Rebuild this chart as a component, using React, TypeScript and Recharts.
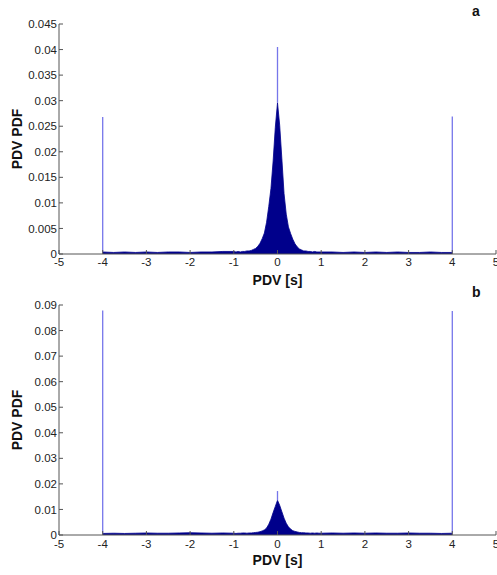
import { ComposedChart, Area, XAxis, YAxis, ReferenceLine } from 'recharts';

// PDV bin centres [s]
const pdv = [
  -4, -3.75, -3.5, -3.25, -3, -2.75, -2.5, -2.25, -2, -1.75, -1.5, -1.25,
  -1, -0.95, -0.9, -0.85, -0.8, -0.75, -0.7, -0.65, -0.6, -0.55, -0.5, -0.45, -0.4, -0.35, -0.3,
  -0.25, -0.2, -0.15, -0.1, -0.05, 0, 0.05, 0.1, 0.15, 0.2, 0.25, 0.3, 0.35, 0.4, 0.45, 0.5,
  0.55, 0.6, 0.65, 0.7, 0.75, 0.8, 0.85, 0.9, 0.95, 1,
  1.25, 1.5, 1.75, 2, 2.25, 2.5, 2.75, 3, 3.25, 3.5, 3.75, 4,
];

// panel a PDF
const pdfA = [
  0.0004, 0.0003, 0.0004, 0.0003, 0.0004, 0.0003, 0.0004, 0.0004, 0.0003, 0.0004, 0.0004, 0.0005,
  0.0005, 0.0004, 0.0005, 0.0004, 0.0005, 0.0005, 0.0006, 0.0006, 0.0007, 0.0009, 0.0011, 0.0015, 0.0021, 0.003, 0.0041,
  0.0062, 0.0093, 0.0128, 0.0182, 0.0248, 0.0296, 0.0252, 0.0186, 0.0118, 0.0078, 0.0053, 0.004, 0.0029, 0.002, 0.0014, 0.001,
  0.0008, 0.0006, 0.0006, 0.0005, 0.0005, 0.0004, 0.0005, 0.0004, 0.0004, 0.0004,
  0.0004, 0.0003, 0.0004, 0.0003, 0.0004, 0.0003, 0.0004, 0.0003, 0.0003, 0.0004, 0.0003, 0.0003,
];

// panel b PDF
const pdfB = [
  0.0006, 0.0007, 0.0006, 0.0007, 0.0008, 0.0007, 0.0007, 0.0008, 0.0009, 0.0008, 0.0007, 0.0008,
  0.0007, 0.0006, 0.0007, 0.0007, 0.0008, 0.0008, 0.0007, 0.0008, 0.0008, 0.0009, 0.001, 0.0011, 0.0013, 0.0016, 0.002,
  0.0027, 0.0042, 0.0062, 0.0088, 0.0112, 0.0136, 0.0116, 0.0091, 0.0066, 0.0046, 0.0032, 0.0023, 0.0017, 0.0014, 0.0012, 0.001,
  0.0009, 0.0009, 0.0008, 0.0008, 0.0007, 0.0008, 0.0007, 0.0008, 0.0007, 0.0007,
  0.0008, 0.0007, 0.0008, 0.0007, 0.0008, 0.0007, 0.0007, 0.0008, 0.0007, 0.0007, 0.0006, 0.0007,
];

// single-bin spikes
const spikeAt = [-4, 0, 4];
const spikeA = [0.0268, 0.0405, 0.0269];
const spikeB = [0.0878, 0.0172, 0.0877];

const xTicks = [-5, -4, -3, -2, -1, 0, 1, 2, 3, 4, 5];
const yTicksA = [0, 0.005, 0.01, 0.015, 0.02, 0.025, 0.03, 0.035, 0.04, 0.045];
const yTicksB = [0, 0.01, 0.02, 0.03, 0.04, 0.05, 0.06, 0.07, 0.08, 0.09];
const boxTicks = [0, 1, 2, 3, 4, 5, 6, 7];

const font = '"Liberation Sans", Arial, sans-serif';
const navy = '#00008b';
const spikeColor = '#7676ea';
const axisColor = '#555';

interface PanelProps {
  pdf: number[];
  spikes: number[];
  yTicks: number[];
  chartTop: number;
  chartHeight: number;
  marginTop: number;
  tickGap: number;
  titleOffset: number;
}

function Panel({ pdf, spikes, yTicks, chartTop, chartHeight, marginTop, tickGap, titleOffset }: PanelProps) {
  const data = pdv.map((x, i) => ({ x, y: pdf[i] }));
  const yMax = yTicks[yTicks.length - 1];
  const tickStyle = { fill: '#222', fontSize: 11.5, fontFamily: font };

  return (
    <div style={{ position: 'absolute', left: 0, top: chartTop, width: 497, height: chartHeight }}>
      <ComposedChart width={497} height={chartHeight} data={data} margin={{ top: marginTop, right: 1, bottom: 0, left: 0 }}>
        <XAxis
          xAxisId="main"
          type="number"
          dataKey="x"
          domain={[-5, 5]}
          ticks={xTicks}
          interval={0}
          allowDataOverflow
          height={chartHeight - marginTop - 230}
          tickSize={-4}
          tickMargin={tickGap}
          stroke={axisColor}
          tick={tickStyle}
          label={{
            value: 'PDV [s]',
            position: 'insideBottom',
            offset: titleOffset,
            style: { fontWeight: 'bold', fontSize: 14, fill: '#111', fontFamily: font },
          }}
        />
        <XAxis
          xAxisId="box"
          orientation="top"
          type="number"
          domain={[0, 7]}
          ticks={boxTicks}
          height={0}
          tick={false}
          tickSize={-4}
          stroke={axisColor}
        />
        <XAxis
          xAxisId="boxFaint"
          orientation="top"
          type="number"
          domain={[-5, 5]}
          ticks={xTicks}
          height={0}
          tick={false}
          axisLine={false}
          tickSize={-3}
          stroke="#c8c8c8"
        />
        <YAxis
          yAxisId="main"
          type="number"
          domain={[0, yMax]}
          ticks={yTicks}
          interval={0}
          allowDataOverflow
          width={59}
          tickSize={-4}
          tickMargin={6}
          stroke={axisColor}
          tick={tickStyle}
          label={{
            value: 'PDV PDF',
            angle: -90,
            position: 'insideLeft',
            offset: 17,
            style: { textAnchor: 'middle', fontWeight: 'bold', fontSize: 14, fill: '#111', fontFamily: font },
          }}
        />
        <YAxis
          yAxisId="r"
          orientation="right"
          type="number"
          domain={[0, yMax]}
          ticks={yTicks}
          width={0}
          tick={false}
          tickSize={-4}
          stroke={axisColor}
        />
        <Area
          xAxisId="main"
          yAxisId="main"
          type="linear"
          dataKey="y"
          stroke={navy}
          strokeWidth={0.8}
          fill={navy}
          fillOpacity={1}
          dot={false}
          activeDot={false}
          isAnimationActive={false}
        />
        {spikeAt.map((sx, i) => {
          const base = pdf[pdv.indexOf(sx)];
          return (
            <ReferenceLine
              key={sx}
              xAxisId="main"
              yAxisId="main"
              segment={[
                { x: sx, y: base },
                { x: sx, y: spikes[i] },
              ]}
              stroke={spikeColor}
              strokeWidth={1.3}
            />
          );
        })}
      </ComposedChart>
    </div>
  );
}

const letterStyle = {
  position: 'absolute' as const,
  left: 472,
  fontFamily: font,
  fontWeight: 'bold' as const,
  fontSize: 14,
  lineHeight: '16px',
  color: '#111',
};

export default function App() {
  return (
    <div style={{ position: 'absolute', left: 0, top: 0, width: 497, height: 575, background: '#fff' }}>
      <Panel pdf={pdfA} spikes={spikeA} yTicks={yTicksA} chartTop={0} chartHeight={290} marginTop={24} tickGap={8} titleOffset={5} />
      <Panel pdf={pdfB} spikes={spikeB} yTicks={yTicksB} chartTop={290} chartHeight={285} marginTop={15} tickGap={9} titleOffset={10} />
      <div style={{ ...letterStyle, top: 3 }}>a</div>
      <div style={{ ...letterStyle, top: 284 }}>b</div>
    </div>
  );
}
